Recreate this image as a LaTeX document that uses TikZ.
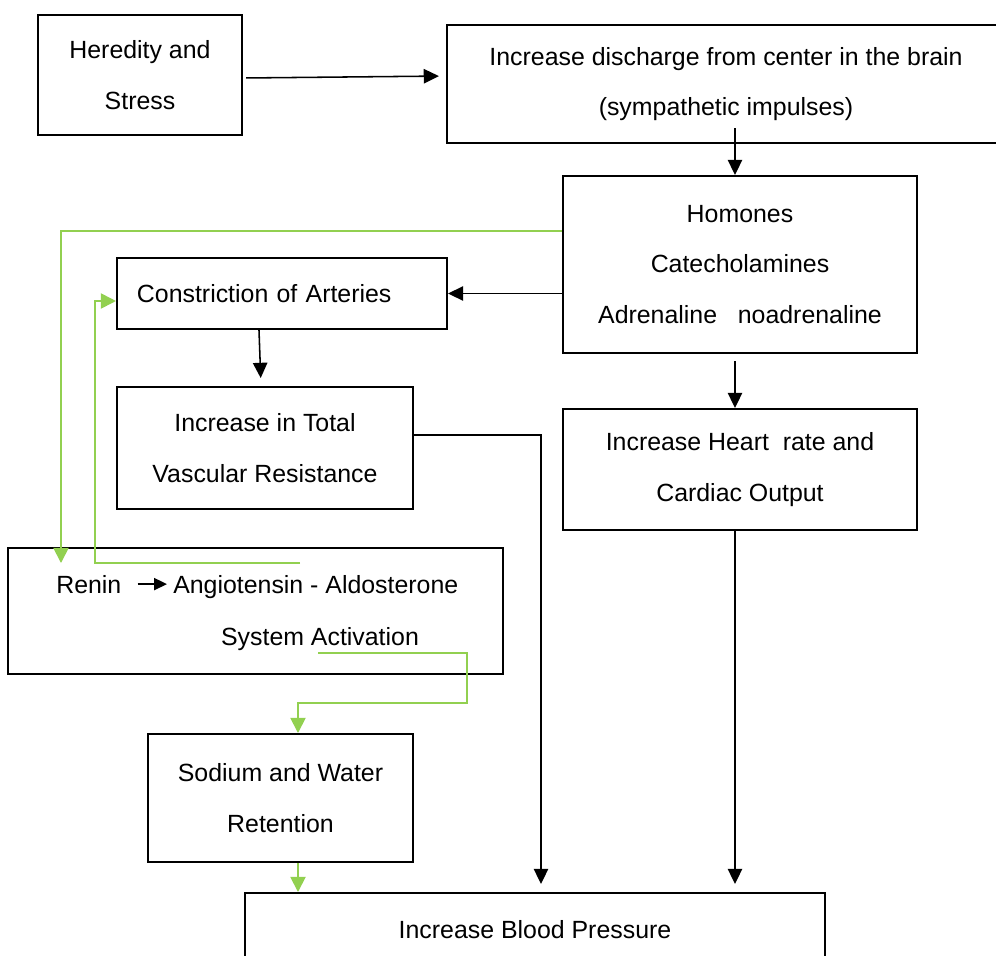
\documentclass[tikz,border=0pt]{standalone}
\usepackage{fontspec}
\setmainfont{Liberation Sans}
\usetikzlibrary{arrows.meta}
\definecolor{leafgreen}{HTML}{92D050}
\begin{document}
\begin{tikzpicture}[x=0.025cm,y=-0.025cm,
  box/.style={draw,line width=1.4pt,align=center,font=\fontsize{17.7}{36}\selectfont},
  txt/.style={inner sep=0pt,font=\fontsize{17.7}{36}\selectfont},
  arr/.style={line width=1.1pt,-{Triangle[length=0.38cm,width=0.36cm]}},
  garr/.style={leafgreen,line width=1.3pt,-{Triangle[length=0.38cm,width=0.38cm]}}]
\clip (0,0) rectangle (996,956);
\node[box,minimum width=5.1cm,minimum height=3cm] (heredity) at (140,75) {Heredity and\\Stress};
\node[box,minimum width=13.95cm,minimum height=2.95cm] (brain) at (726,84) {Increase discharge from center in the brain\\(sympathetic impulses)};
\node[box,minimum width=8.85cm,minimum height=4.425cm] (homones) at (740,264.5) {Homones\\Catecholamines\\Adrenaline~~~noadrenaline};
\node[box,align=left,inner xsep=0.5cm,text width=7.25cm,minimum height=1.775cm] (constr) at (282,293.5) {Constriction of Arteries};
\node[box,minimum width=7.4cm,minimum height=3.05cm] (total) at (265,448) {Increase in Total\\Vascular Resistance};
\node[box,minimum width=8.85cm,minimum height=3.025cm] (heart) at (740,469.5) {Increase Heart~ rate and\\Cardiac Output};
\node[box,minimum width=12.375cm,minimum height=3.15cm] (renin) at (255.5,611) {};
\node[txt,anchor=base west] (reninTxt) at (56,593) {Renin};
\node[txt,anchor=base west] (angio) at (173,593) {Angiotensin - Aldosterone};
\node[txt,anchor=base] (sysact) at (320,645) {System Activation};
\node[box,minimum width=6.625cm,minimum height=3.2cm] (sodium) at (280.5,798) {Sodium and Water\\Retention};
\node[box,minimum width=14.5cm,minimum height=1.85cm] (bp) at (535,930) {Increase Blood Pressure};
\coordinate (rIn) at (61,563);
\coordinate (gOut1) at (300,563);
\coordinate (gOut2) at (318,653);

\draw[arr,shorten <=0.075cm,shorten >=0.175cm] (heredity.east |- 0,78) -- (brain.west |- 0,76);
\draw[arr,shorten <=-0.4cm] (brain.south -| 735,0) -- (homones.north -| 735,0);
\draw[arr] (homones.west |- constr.east) -- (constr.east);
\draw[arr,shorten <=0.175cm] (homones.south -| 735,0) -- (heart.north -| 735,0);
\draw[arr,shorten >=0.2cm] ([xshift=-0.575cm]constr.south) -- ([xshift=-0.1cm]total.north);
\draw[arr,shorten >=0.2cm] (total.east |- 0,435) -| (bp.north -| 541,0);
\draw[arr,shorten >=0.2cm] (heart.south -| 735,0) -- (bp.north -| 735,0);
\draw[line width=1.1pt,-{Triangle[length=0.32cm,width=0.3cm]},shorten <=0.4cm,shorten >=0.15cm] (reninTxt.east) -- (reninTxt.east -| angio.west);

\draw[garr] (homones.west |- 0,231) -| (rIn);
\draw[garr] (gOut1) -| (95,301) -- (constr.west |- 0,301);
\draw[garr] (gOut2) -| (467,703) -| (sodium.north -| 298,0);
\draw[garr] (sodium.south -| 298,0) -- (bp.north -| 298,0);
\end{tikzpicture}
\end{document}
